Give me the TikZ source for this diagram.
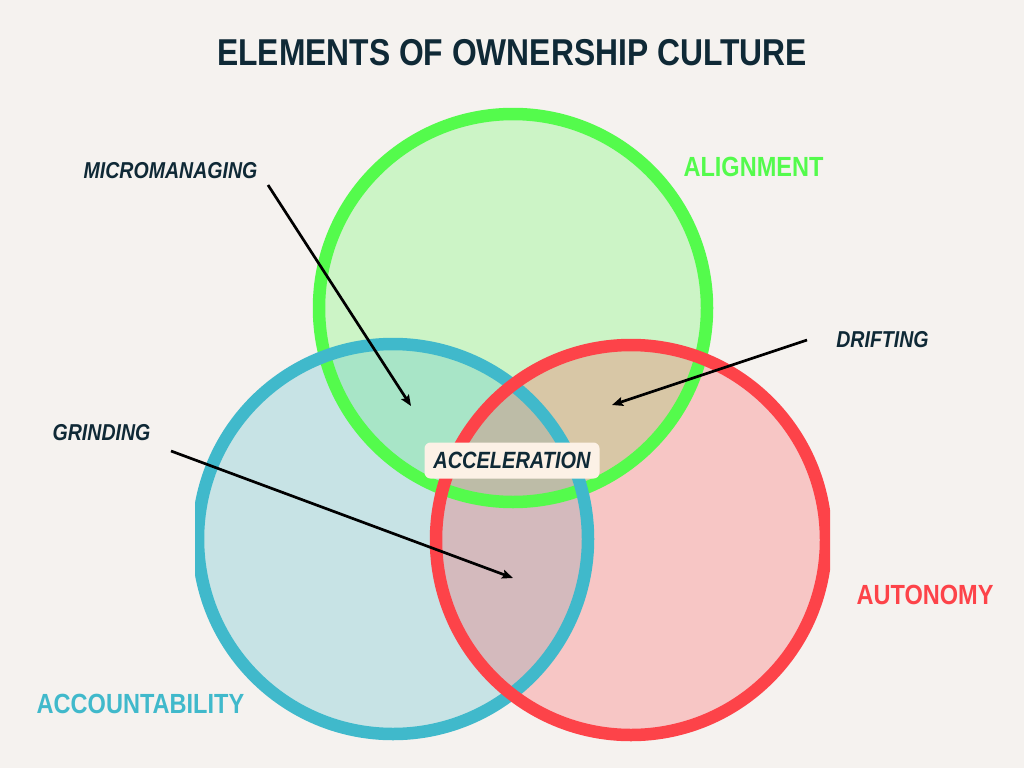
\documentclass[tikz,border=0pt]{standalone}
\usepackage{fontspec}
\newfontfamily\cond[FakeStretch=0.85]{Liberation Sans}
\usetikzlibrary{arrows.meta}
\definecolor{bgc}{HTML}{F5F2EF}
\definecolor{ink}{HTML}{0F2936}
\definecolor{grn}{HTML}{54FB4C}
\definecolor{blu}{HTML}{40B9CB}
\definecolor{rd}{HTML}{FD4349}
\definecolor{cream}{HTML}{FCF1E6}
\tikzset{
  ring/.style={line width=12.5pt},
  tint/.style={fill opacity=0.25},
  lbl/.style={font=\cond\bfseries\itshape\fontsize{23}{26}\selectfont, text=ink, inner sep=0pt, anchor=base},
  setlbl/.style={font=\cond\bfseries\fontsize{27.7}{30}\selectfont, inner sep=0pt, anchor=base},
  pointer/.style={line width=2.7pt, draw=black, -{Stealth[length=11pt,width=9pt,inset=2pt]}},
}
\begin{document}
\begin{tikzpicture}[x=1pt,y=-1pt]
\useasboundingbox (0,0) rectangle (1024,768);
\fill[bgc] (0,0) rectangle (1024,768);

\coordinate (gc) at (513,308);
\coordinate (bc) at (393,539);
\coordinate (rc) at (631,540);

% fills
\fill[grn,tint] (gc) circle[radius=194pt];
\begin{scope}
  \clip (195,300) rectangle (620,760);
  \fill[blu,tint] (bc) circle[radius=195pt];
\end{scope}
\begin{scope}
  \clip (420,300) rectangle (830,760);
  \fill[rd,tint] (rc) circle[radius=195pt];
\end{scope}
% rings
\draw[grn,ring] (gc) circle[radius=194pt];
\begin{scope}
  \clip (195,300) rectangle (620,760);
  \draw[blu,ring] (bc) circle[radius=195pt];
\end{scope}
\begin{scope}
  \clip (420,300) rectangle (830,760);
  \draw[rd,ring] (rc) circle[radius=195pt];
\end{scope}

% title
\node[font=\cond\bfseries\fontsize{37.4}{40}\selectfont, text=ink, inner sep=0pt, anchor=base] (title) at (512,66) {ELEMENTS OF OWNERSHIP CULTURE};

% set labels
\node[setlbl, text=grn] (align) at (753.5,176) {ALIGNMENT};
\node[setlbl, text=rd] (auto) at (925,604) {AUTONOMY};
\node[setlbl, text=blu] (acct) at (140.5,713) {ACCOUNTABILITY};

% region labels
\node[lbl] (micro) at (170.5,178) {MICROMANAGING};
\node[lbl] (drift) at (882.5,347) {DRIFTING};
\node[lbl] (grind) at (101.5,440) {GRINDING};

\node[fill=cream, rounded corners=6pt, minimum width=175pt, minimum height=36pt, inner sep=0pt,
      font=\cond\bfseries\itshape\fontsize{23.5}{26}\selectfont, text=ink] (accel) at (512,460.5) {ACCELERATION};

% pointers
\coordinate (microS) at (268,185);
\coordinate (microT) at (411,406);
\coordinate (driftS) at (807,340);
\coordinate (driftT) at (612,405);
\coordinate (grindS) at (171,451);
\coordinate (grindT) at (513,578);
\draw[pointer] (microS) -- (microT);
\draw[pointer] (driftS) -- (driftT);
\draw[pointer] (grindS) -- (grindT);
\end{tikzpicture}
\end{document}
